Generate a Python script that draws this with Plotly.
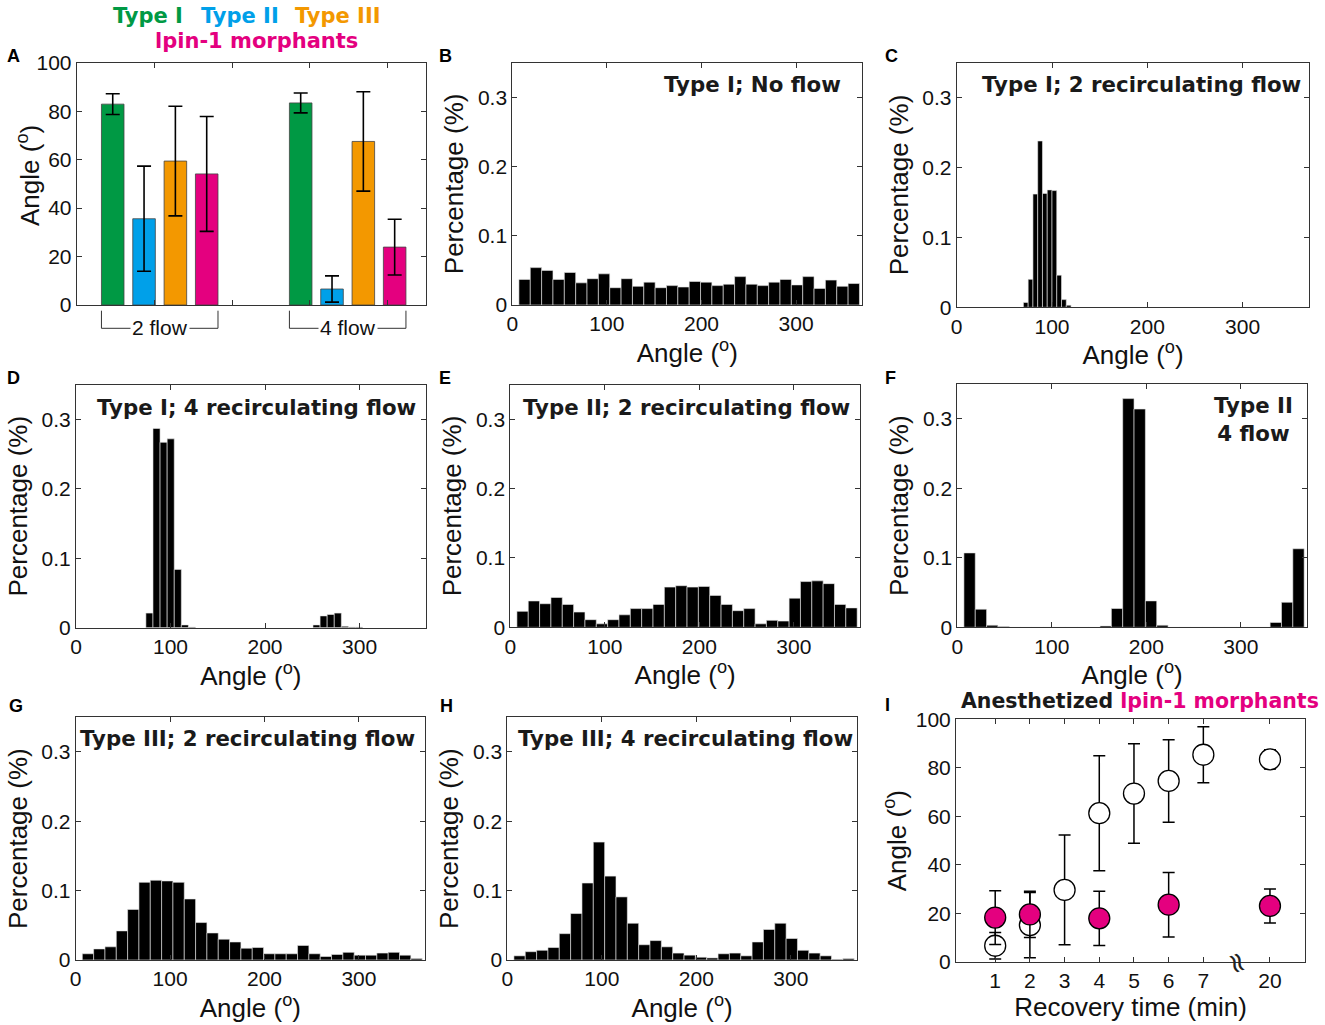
import plotly.graph_objects as go

W, H = 1325, 1025

# ---- panel A: mean angle per type, 2 and 4 recirculating flow
types = ['Type I', 'Type II', 'Type III', 'lpin-1 morphants']
type_colors = ['#009944', '#00A0E9', '#F39800', '#E4007F']
angle_2flow = [82.9, 35.6, 59.4, 54.1]
err_2flow = [4.3, 21.7, 22.6, 23.7]
angle_4flow = [83.4, 6.6, 67.5, 23.9]
err_4flow = [4.1, 5.4, 20.5, 11.5]

# ---- histograms (fraction per bin)
bins12 = [13, 25, 37, 49, 61, 73, 85, 97, 109, 121, 133, 145, 157, 169, 181,
          193, 205, 217, 229, 241, 253, 265, 277, 289, 301, 313, 325, 337, 349, 361]

hist_B = [0.037, 0.054, 0.050, 0.037, 0.047, 0.032, 0.038, 0.045, 0.025, 0.038,
          0.027, 0.033, 0.025, 0.028, 0.026, 0.034, 0.033, 0.028, 0.030, 0.041,
          0.030, 0.028, 0.033, 0.037, 0.029, 0.041, 0.024, 0.036, 0.027, 0.031]

bins_C = [72.5, 77.5, 82.5, 87.5, 92.5, 97.5, 102.5, 107.5, 112.5, 117.5]
hist_C = [0.007, 0.040, 0.162, 0.238, 0.163, 0.168, 0.167, 0.046, 0.011, 0.003]

bins_D = [77.7, 85.2, 92.7, 100.2, 107.7, 115.2, 122.7,
          254.5, 262.0, 269.5, 277.0, 284.5, 292.0, 299.5]
hist_D = [0.021, 0.287, 0.267, 0.272, 0.084, 0.004, 0.001,
          0.004, 0.017, 0.019, 0.021, 0.002, 0.001, 0.001]

hist_E = [0.023, 0.038, 0.034, 0.043, 0.033, 0.022, 0.011, 0.005, 0.011, 0.018,
          0.027, 0.027, 0.033, 0.058, 0.060, 0.058, 0.059, 0.046, 0.033, 0.024,
          0.027, 0.005, 0.010, 0.009, 0.042, 0.066, 0.067, 0.063, 0.033, 0.028]

hist_F = [0.107, 0.026, 0.003, 0.001, 0, 0, 0, 0, 0, 0,
          0, 0, 0.002, 0.027, 0.329, 0.314, 0.038, 0.003, 0, 0,
          0, 0, 0, 0, 0, 0, 0, 0.007, 0.036, 0.113]

hist_G = [0.009, 0.016, 0.019, 0.042, 0.073, 0.112, 0.115, 0.114, 0.112, 0.088,
          0.054, 0.039, 0.030, 0.026, 0.017, 0.018, 0.009, 0.009, 0.009, 0.021,
          0.009, 0.005, 0.008, 0.011, 0.007, 0.007, 0.010, 0.011, 0.007, 0.002]

hist_H = [0.006, 0.012, 0.014, 0.018, 0.038, 0.067, 0.111, 0.170, 0.121, 0.091,
          0.053, 0.022, 0.028, 0.019, 0.010, 0.007, 0.004, 0.003, 0.009, 0.010,
          0.006, 0.026, 0.044, 0.053, 0.031, 0.014, 0.010, 0.006, 0.001, 0.002]

# ---- panel I: recovery
time_labels = ['1', '2', '3', '4', '5', '6', '7', '20']
time_pos = [1, 2, 3, 4, 5, 6, 7, 8.92]
anesth_mean = [6.7, 15.2, 29.7, 61.3, 69.4, 74.6, 85.4, 83.5]
anesth_err = [5.5, 13.4, 22.6, 23.7, 20.5, 17.0, 11.5, 4.0]
morph_labels = ['1', '2', '4', '6', '20']
morph_pos = [1, 2, 4, 6, 8.92]
morph_mean = [18.3, 19.6, 18.0, 23.6, 23.1]
morph_err = [11.1, 9.5, 11.2, 13.3, 7.0]


def xd(a, b):
    return [a / W, b / W]


def yd(top, bottom):
    return [1 - bottom / H, 1 - top / H]


# plot areas in page pixels: left, right, top, bottom
boxes = {
    1: (76.7, 426, 62.7, 305),
    2: (512.3, 862.3, 62.7, 305),
    3: (956.7, 1309.3, 62.7, 307.3),
    4: (76, 425.7, 384.7, 627.7),
    5: (510.3, 860, 384.7, 627.3),
    6: (957.3, 1307, 384, 627.3),
    7: (75.7, 425, 717.3, 960),
    8: (507.3, 857, 717.3, 960),
    9: (956, 1305, 719.3, 962),
}

tick_font = dict(family='Liberation Sans, Arial, sans-serif', size=21, color='#111')
title_font = dict(family='Liberation Sans, Arial, sans-serif', size=26, color='#111')
bold_font = 'DejaVu Sans, Arial Black, sans-serif'

axis_style = dict(showline=True, linecolor='#333', linewidth=1, mirror='ticks',
                  ticks='inside', ticklen=5, tickcolor='#333', showgrid=False,
                  zeroline=False, tickfont=tick_font, automargin=False)

fig = go.Figure()

# A
for i, t in enumerate(types):
    fig.add_trace(go.Bar(x=[1 + i, 7 + i], y=[angle_2flow[i], angle_4flow[i]],
                         width=0.72, name=t,
                         marker=dict(color=type_colors[i], line=dict(color='#444', width=0.8)),
                         error_y=dict(type='data', array=[err_2flow[i], err_4flow[i]],
                                      color='black', thickness=1.6, width=7),
                         xaxis='x', yaxis='y', showlegend=False))

hist_panels = [
    (2, bins12, hist_B, 12),
    (3, bins_C, hist_C, 5),
    (4, bins_D, hist_D, 7.5),
    (5, bins12, hist_E, 12),
    (6, bins12, hist_F, 12),
    (7, bins12, hist_G, 12),
    (8, bins12, hist_H, 12),
]
for k, xs, ys, w in hist_panels:
    fig.add_trace(go.Bar(x=xs, y=ys, width=w,
                         marker=dict(color='black', line=dict(color='#e8e8e8', width=0.6)),
                         xaxis='x%d' % k, yaxis='y%d' % k, showlegend=False))

# I
fig.add_trace(go.Scatter(x=time_pos, y=anesth_mean, mode='markers',
                         marker=dict(symbol='circle', size=21, color='white',
                                     line=dict(color='black', width=1.3)),
                         error_y=dict(type='data', array=anesth_err, color='black',
                                      thickness=1.5, width=6),
                         xaxis='x9', yaxis='y9', showlegend=False))
fig.add_trace(go.Scatter(x=morph_pos, y=morph_mean, mode='markers',
                         marker=dict(symbol='circle', size=21, color='#E4007F',
                                     line=dict(color='black', width=1.3)),
                         error_y=dict(type='data', array=morph_err, color='black',
                                      thickness=1.5, width=6),
                         xaxis='x9', yaxis='y9', showlegend=False))

layout = dict(width=W, height=H, margin=dict(l=0, r=0, t=0, b=0, autoexpand=False),
              paper_bgcolor='white', plot_bgcolor='white', barmode='overlay')

angle_title = 'Angle (<sup>o</sup>)'
for k, (l, r, t, b) in boxes.items():
    xs = '' if k == 1 else str(k)
    xa = dict(axis_style, domain=xd(l, r), anchor='y' + xs)
    ya = dict(axis_style, domain=yd(t, b), anchor='x' + xs)
    if k == 1:
        # y title of A goes in as an annotation, it sits tight on the tick labels
        xa.update(range=[-0.15, 11], tickvals=[2.33, 4.81, 7.29, 9.77], showticklabels=False)
        ya.update(range=[0, 100], tickvals=[0, 20, 40, 60, 80, 100])
    elif k == 9:
        xa.update(range=[-0.13, 9.93], tickvals=time_pos, ticktext=time_labels,
                  title=dict(text='Recovery time (min)', font=title_font, standoff=4))
        ya.update(range=[0, 100], tickvals=[0, 20, 40, 60, 80, 100],
                  title=dict(text=angle_title, font=title_font, standoff=1))
    else:
        xa.update(range=[0, 370], tickvals=[0, 100, 200, 300],
                  title=dict(text=angle_title, font=title_font, standoff=4))
        ya.update(range=[0, 0.35], tickvals=[0, 0.1, 0.2, 0.3],
                  ticktext=['0', '0.1', '0.2', '0.3'],
                  title=dict(text='Percentage (%)', font=title_font, standoff=6))
    layout['xaxis' + xs] = xa
    layout['yaxis' + xs] = ya

fig.update_layout(**layout)


def pxx(v):
    return v / W


def pxy(v):
    return 1 - v / H


fig.add_annotation(text=angle_title, x=pxx(28), y=pxy(176), xref='paper', yref='paper',
                   xanchor='center', yanchor='middle', textangle=-90, showarrow=False,
                   font=title_font)

# panel letters
letters = [('A', 5, 56), ('B', 437, 56), ('C', 883, 56),
           ('D', 5, 378), ('E', 437, 378), ('F', 883, 378),
           ('G', 7, 706), ('H', 438, 706), ('I', 883, 705)]
for s, x, y in letters:
    fig.add_annotation(text='<b>%s</b>' % s, x=pxx(x), y=pxy(y), xref='paper', yref='paper',
                       xanchor='left', yanchor='middle', showarrow=False,
                       font=dict(family='Liberation Sans, Arial', size=18, color='black'))

# panel titles inside plots
inner_titles = [
    ('Type I; No flow', 843, 85, 'right'),
    ('Type I; 2 recirculating flow', 1141.5, 85, 'center'),
    ('Type I; 4 recirculating flow', 256, 407, 'center'),
    ('Type II; 2 recirculating flow', 687, 407, 'center'),
    ('Type II<br>4 flow', 1253, 419.5, 'center'),
    ('Type III; 2 recirculating flow', 247.5, 738, 'center'),
    ('Type III; 4 recirculating flow', 685, 738, 'center'),
]
for s, x, y, anc in inner_titles:
    fig.add_annotation(text='<b>%s</b>' % s, x=pxx(x), y=pxy(y), xref='paper', yref='paper',
                       xanchor=anc, yanchor='middle', showarrow=False,
                       font=dict(family=bold_font, size=21.3, color='#1a1a1a'))

# legend-like labels above A
for s, c, x, y in [('Type I', type_colors[0], 147.5, 16), ('Type II', type_colors[1], 240, 16),
                   ('Type III', type_colors[2], 337.5, 16),
                   ('lpin-1 morphants', type_colors[3], 256.5, 41)]:
    fig.add_annotation(text='<b>%s</b>' % s, x=pxx(x), y=pxy(y), xref='paper', yref='paper',
                       xanchor='center', yanchor='middle', showarrow=False,
                       font=dict(family=bold_font, size=21, color=c))

# title for I
fig.add_annotation(text="<b>Anesthetized <span style='color:#E4007F'>lpin-1 morphants</span></b>",
                   x=pxx(1139.5), y=pxy(701), xref='paper', yref='paper',
                   xanchor='center', yanchor='middle', showarrow=False,
                   font=dict(family=bold_font, size=20.5, color='#1a1a1a'))

# axis break symbol in I
fig.add_annotation(text='≈', x=8.0, y=0, xref='x9', yref='y9', showarrow=False,
                   textangle=70, font=dict(family='DejaVu Sans', size=28, color='#222'))

# brackets under A
for x0, x1, label in [(0.64, 4.36, '2 flow'), (6.64, 10.36, '4 flow')]:
    fig.add_shape(type='path', xref='x', yref='paper',
                  path='M %f,%f L %f,%f L %f,%f L %f,%f' % (x0, pxy(310.7), x0, pxy(328.3),
                                                            x1, pxy(328.3), x1, pxy(310.7)),
                  line=dict(color='#333', width=1))
    fig.add_annotation(text=label, x=(x0 + x1) / 2, y=pxy(327), xref='x', yref='paper',
                       xanchor='center', yanchor='middle', showarrow=False,
                       bgcolor='white', borderpad=1, font=tick_font)

# page body has a default 8px margin; drop it so the figure sits at the corner
fig.write_html('out.html', config={'displayModeBar': False},
               post_script="document.body.style.margin='0px';")
